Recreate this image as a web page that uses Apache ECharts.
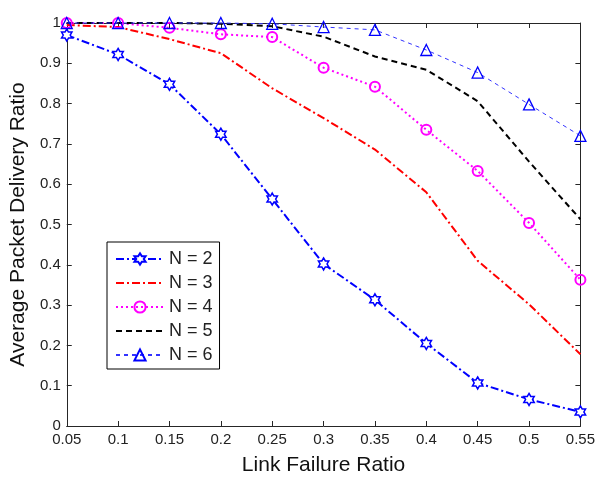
<!DOCTYPE html>
<html>
<head>
<meta charset="utf-8">
<script src="https://cdn.jsdelivr.net/npm/echarts@6/dist/echarts.min.js"></script>
<style>html,body{margin:0;padding:0;background:#fff;}#c{width:598px;height:481px;}</style>
</head>
<body>
<div id="c"></div>
<script>
var xValues = [0.05, 0.1, 0.15, 0.2, 0.25, 0.3, 0.35, 0.4, 0.45, 0.5, 0.55];
var n2 = [0.970, 0.922, 0.848, 0.724, 0.563, 0.402, 0.313, 0.205, 0.107, 0.066, 0.035];
var n3 = [0.995, 0.990, 0.960, 0.925, 0.838, 0.764, 0.686, 0.580, 0.410, 0.302, 0.178];
var n4 = [1.000, 1.000, 0.988, 0.972, 0.965, 0.889, 0.842, 0.735, 0.633, 0.504, 0.363];
var n5 = [1.000, 1.000, 1.000, 0.998, 0.992, 0.966, 0.917, 0.884, 0.806, 0.656, 0.513];
var n6 = [1.000, 1.000, 1.000, 1.000, 0.998, 0.990, 0.983, 0.933, 0.877, 0.798, 0.720];
var seriesNames = ['N = 2', 'N = 3', 'N = 4', 'N = 5', 'N = 6'];

function pairs(arr) { return xValues.map(function (x, i) { return [x, arr[i]]; }); }
var FONT = 'Liberation Sans, Arial, sans-serif';
var hexagram = 'path://M0,-10 L2.887,-5 L8.66,-5 L5.774,0 L8.66,5 L2.887,5 L0,10 L-2.887,5 L-8.66,5 L-5.774,0 L-8.66,-5 L-2.887,-5 Z';
var dashDot = [8, 3, 2, 3];

function fmt(v) { return String(parseFloat(v.toFixed(2))); }

var axisLineStyle = { color: '#262626', width: 1 };
var hiddenIcon = { color: 'rgba(0,0,0,0)', borderColor: 'rgba(0,0,0,0)', borderWidth: 0 };
var chart = echarts.init(document.getElementById('c'));
chart.setOption({
  animation: false,
  backgroundColor: '#fff',
  grid: { left: 66, right: 17, top: 23, bottom: 53 },
  xAxis: [{
    type: 'value', min: 0.05, max: 0.55, interval: 0.05,
    position: 'bottom',
    name: 'Link Failure Ratio', nameLocation: 'middle', nameGap: 29,
    nameTextStyle: { fontFamily: FONT, fontSize: 21, color: '#111' },
    axisLine: { show: true, onZero: false, lineStyle: axisLineStyle },
    axisTick: { show: true, inside: true, length: 5, lineStyle: axisLineStyle },
    axisLabel: { fontFamily: FONT, fontSize: 15, color: '#222', margin: 6, formatter: fmt },
    splitLine: { show: false }
  }, {
    type: 'value', min: 0.05, max: 0.55, interval: 0.05,
    position: 'top',
    axisLine: { show: true, onZero: false, lineStyle: axisLineStyle },
    axisTick: { show: true, inside: true, length: 5, lineStyle: axisLineStyle },
    axisLabel: { show: false },
    splitLine: { show: false }
  }],
  yAxis: [{
    type: 'value', min: 0, max: 1, interval: 0.1,
    position: 'left',
    name: 'Average Packet Delivery Ratio', nameLocation: 'middle', nameGap: 36,
    nameTextStyle: { fontFamily: FONT, fontSize: 21, color: '#111' },
    axisLine: { show: true, onZero: false, lineStyle: axisLineStyle },
    axisTick: { show: true, inside: true, length: 5, lineStyle: axisLineStyle },
    axisLabel: { fontFamily: FONT, fontSize: 15, color: '#222', margin: 6, formatter: fmt },
    splitLine: { show: false }
  }, {
    type: 'value', min: 0, max: 1, interval: 0.1,
    position: 'right',
    axisLine: { show: true, onZero: false, lineStyle: axisLineStyle },
    axisTick: { show: true, inside: true, length: 5, lineStyle: axisLineStyle },
    axisLabel: { show: false },
    splitLine: { show: false }
  }],
  legend: {
    orient: 'vertical',
    left: 107, top: 242,
    data: [
      { name: seriesNames[0] },
      { name: seriesNames[1], itemStyle: hiddenIcon },
      { name: seriesNames[2] },
      { name: seriesNames[3], itemStyle: hiddenIcon },
      { name: seriesNames[4] }
    ],
    backgroundColor: '#fff',
    borderColor: '#000', borderWidth: 1,
    padding: [8, 7, 5, 8],
    itemWidth: 48, itemHeight: 14, itemGap: 6,
    textStyle: { fontFamily: FONT, fontSize: 18, lineHeight: 18, color: '#222' }
  },
  series: [{
    name: seriesNames[0], type: 'line', data: pairs(n2), clip: false,
    symbol: hexagram, symbolSize: 12, symbolKeepAspect: true,
    lineStyle: { color: '#0000ff', width: 2, type: dashDot },
    itemStyle: { color: '#ffffff', borderColor: '#0000ff', borderWidth: 1.5 },
    z: 3
  }, {
    name: seriesNames[1], type: 'line', data: pairs(n3), clip: false,
    symbol: 'none',
    lineStyle: { color: '#ff0000', width: 2, type: dashDot },
    itemStyle: { color: '#ff0000' },
    z: 2
  }, {
    name: seriesNames[2], type: 'line', data: pairs(n4), clip: false,
    symbol: 'circle', symbolSize: 10,
    lineStyle: { color: '#ff00ff', width: 2, type: [2, 3] },
    itemStyle: { color: 'rgba(255,255,255,0)', borderColor: '#ff00ff', borderWidth: 2 },
    z: 2
  }, {
    name: seriesNames[3], type: 'line', data: pairs(n5), clip: false,
    symbol: 'none',
    lineStyle: { color: '#000000', width: 2, type: [6, 4] },
    itemStyle: { color: '#000000' },
    z: 2
  }, {
    name: seriesNames[4], type: 'line', data: pairs(n6), clip: false,
    symbol: 'triangle', symbolSize: 11,
    lineStyle: { color: '#3333ff', width: 1, type: [4, 4] },
    itemStyle: { color: 'rgba(255,255,255,0)', borderColor: '#0000ff', borderWidth: 1.3 },
    z: 4
  }]
});
</script>
</body>
</html>
